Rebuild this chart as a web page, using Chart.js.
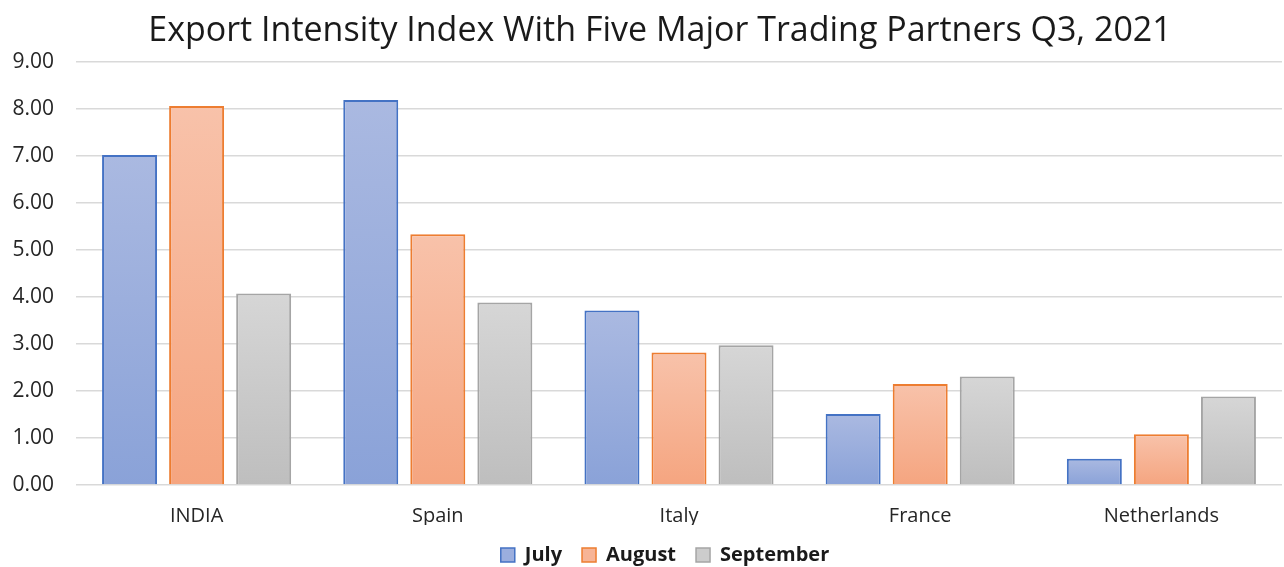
<!DOCTYPE html>
<html>
<head>
<meta charset="utf-8">
<script src="https://cdn.jsdelivr.net/npm/chart.js@4/dist/chart.umd.min.js"></script>
<style>
  html, body { margin: 0; padding: 0; background: #fff; }
  #wrap { width: 1284px; height: 567px; }
</style>
</head>
<body>
<div id="wrap"><canvas id="myChart" width="1284" height="567"></canvas></div>
<script>
console.log("loading up")

const ctx = document.getElementById("myChart").getContext("2d");

const labels = ['INDIA', 'Spain', 'Italy', 'France', 'Netherlands'];
const julyValues = [7.02, 8.19, 3.71, 1.51, 0.56];
const augustValues = [8.06, 5.33, 2.82, 2.15, 1.08];
const septemberValues = [4.07, 3.88, 2.97, 2.31, 1.88];
const yTicks = [0, 1, 2, 3, 4, 5, 6, 7, 8, 9];

const FONT = "'Open Sans', sans-serif";

// each bar gets its own top-to-bottom gradient
function barGradient(top, bottom) {
  return function(context) {
    const chart = context.chart;
    const y = chart.scales && chart.scales.y;
    if (!y || context.raw === undefined || !chart.chartArea) return bottom;
    const yTop = y.getPixelForValue(context.raw);
    const yBase = y.getPixelForValue(0);
    if (!isFinite(yTop) || !isFinite(yBase) || yTop === yBase) return bottom;
    const g = chart.ctx.createLinearGradient(0, yTop, 0, yBase);
    g.addColorStop(0, top);
    g.addColorStop(1, bottom);
    return g;
  };
}

// nudge title and legend a bit right so they sit over the plot
const nudgeBoxes = {
  id: 'nudgeBoxes',
  afterLayout(chart) {
    if (chart.titleBlock) chart.titleBlock.left += 38;
    if (chart.legend) chart.legend.left += 48;
  }
};

const data = {
  labels: labels,
  datasets: [{
    label: "July",
    backgroundColor: barGradient('rgb(170,185,225)', 'rgb(138,162,216)'),
    borderColor: '#4472c4',
    borderWidth: 2,
    data: julyValues,
  }, {
    label: "August",
    backgroundColor: barGradient('rgb(248,194,170)', 'rgb(245,165,128)'),
    borderColor: '#ed7d31',
    borderWidth: 2,
    data: augustValues,
  }, {
    label: "September",
    backgroundColor: barGradient('rgb(214,214,214)', 'rgb(190,190,190)'),
    borderColor: '#a5a5a5',
    borderWidth: 2,
    data: septemberValues,
  }]
}

const config = {
  type: 'bar',
  data: data,
  plugins: [nudgeBoxes],
  options: {
    responsive: false,
    animation: false,
    categoryPercentage: 0.834,
    barPercentage: 0.82,
    layout: { padding: { left: 0, right: 2, top: 8, bottom: -8 } },
    plugins: {
      title: {
        display: true,
        text: 'Export Intensity Index With Five Major Trading Partners Q3, 2021',
        color: '#1a1a1a',
        font: { family: FONT, size: 34, weight: 'normal' },
        padding: { top: 3, bottom: 10 }
      },
      legend: {
        position: 'bottom',
        labels: {
          color: '#1a1a1a',
          boxWidth: 14,
          boxHeight: 14,
          padding: 20,
          font: { family: FONT, size: 20, weight: 'bold' },
          generateLabels: function(chart) {
            const fills = ['rgb(155,174,222)', 'rgb(247,180,150)', 'rgb(204,204,204)'];
            return chart.data.datasets.map(function(ds, i) {
              return {
                text: ds.label,
                fillStyle: fills[i],
                strokeStyle: ds.borderColor,
                lineWidth: 1.5,
                fontColor: '#1a1a1a',
                datasetIndex: i,
                hidden: false
              };
            });
          }
        }
      },
      tooltip: { enabled: false }
    },
    scales: {
      x: {
        grid: { display: false },
        border: { display: false },
        afterFit: function(scale) { scale.height = 40; },
        ticks: {
          color: '#262626',
          padding: 11,
          font: { family: FONT, size: 20 }
        }
      },
      y: {
        min: 0,
        max: 9,
        beginAtZero: true,
        afterBuildTicks: function(scale) {
          scale.ticks = yTicks.map(function(v) { return { value: v }; });
        },
        afterFit: function(scale) { scale.width = 76; },
        grid: { color: '#d9d9d9', lineWidth: 1.5, drawTicks: false },
        border: { display: false },
        ticks: {
          color: '#262626',
          padding: 22,
          font: { family: FONT, size: 21 },
          callback: function(v) { return Number(v).toFixed(2); }
        }
      }
    }
  }
};

const myChart = new Chart(ctx, config);
</script>
</body>
</html>
